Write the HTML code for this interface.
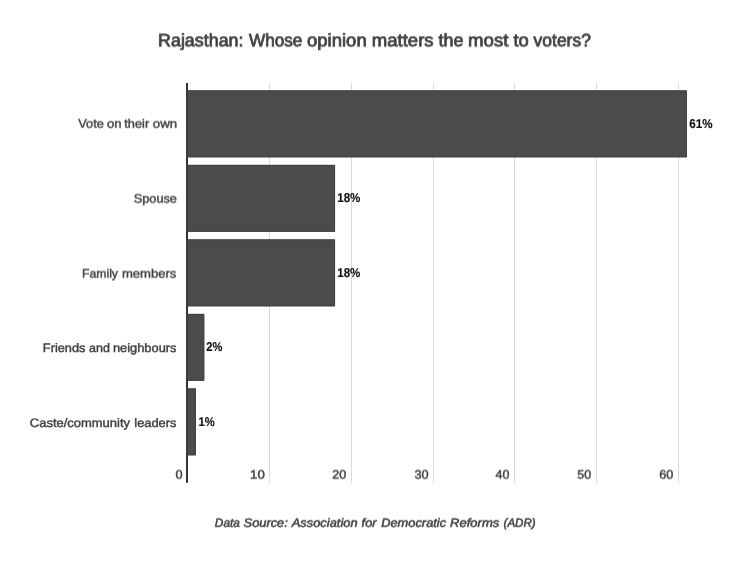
<!DOCTYPE html>
<html lang="en">
<head>
<meta charset="utf-8">
<title>Rajasthan: Whose opinion matters the most to voters?</title>
<style>
html,body{margin:0;padding:0;background:#fff;}
body{width:750px;height:563px;overflow:hidden;}
svg{display:block;font-family:"Liberation Sans",sans-serif;}
text{text-rendering:geometricPrecision;}
.title{font-size:17.8px;fill:#424242;stroke:#424242;stroke-width:.78px;}
.src{font-size:12px;font-style:italic;fill:#404040;stroke:#404040;stroke-width:.5px;}
.cat{font-size:12.3px;fill:#404040;stroke:#404040;stroke-width:.42px;}
.tick{font-size:12.2px;fill:#404040;stroke:#404040;stroke-width:.45px;}
.val{font-size:12.8px;font-weight:bold;fill:#111;stroke:#111;stroke-width:.15px;}
</style>
</head>
<body>
<svg width="750" height="563" viewBox="0 0 750 563">
<rect x="0" y="0" width="750" height="563" fill="#ffffff"/>
<defs>
<filter id="s25" filterUnits="userSpaceOnUse" x="0" y="0" width="750" height="563" color-interpolation-filters="sRGB"><feOffset dy="1" result="o"/><feComposite in="SourceGraphic" in2="o" operator="arithmetic" k1="0" k2="0.75" k3="0.25" k4="0"/></filter>
<filter id="s60" filterUnits="userSpaceOnUse" x="0" y="0" width="750" height="563" color-interpolation-filters="sRGB"><feOffset dy="1" result="o"/><feComposite in="SourceGraphic" in2="o" operator="arithmetic" k1="0" k2="0.40" k3="0.60" k4="0"/></filter>
<filter id="s70" filterUnits="userSpaceOnUse" x="0" y="0" width="750" height="563" color-interpolation-filters="sRGB"><feOffset dy="1" result="o"/><feComposite in="SourceGraphic" in2="o" operator="arithmetic" k1="0" k2="0.30" k3="0.70" k4="0"/></filter>
<filter id="s80" filterUnits="userSpaceOnUse" x="0" y="0" width="750" height="563" color-interpolation-filters="sRGB"><feOffset dy="1" result="o"/><feComposite in="SourceGraphic" in2="o" operator="arithmetic" k1="0" k2="0.20" k3="0.80" k4="0"/></filter>
</defs>
<!-- chart title -->
<g class="title">
<text y="46" filter="url(#s25)"><tspan x="158.06" textLength="85.43" lengthAdjust="spacingAndGlyphs">Rajasthan:</tspan> <tspan x="248.91" textLength="53.53" lengthAdjust="spacingAndGlyphs">Whose</tspan> <tspan x="307.04" textLength="59.68" lengthAdjust="spacingAndGlyphs">opinion</tspan> <tspan x="371.71" textLength="61.91" lengthAdjust="spacingAndGlyphs">matters</tspan> <tspan x="438.47" textLength="24.96" lengthAdjust="spacingAndGlyphs">the</tspan> <tspan x="468.01" textLength="40.44" lengthAdjust="spacingAndGlyphs">most</tspan> <tspan x="513.46" textLength="15.33" lengthAdjust="spacingAndGlyphs">to</tspan> <tspan x="533.62" textLength="57.26" lengthAdjust="spacingAndGlyphs">voters?</tspan></text>
</g>
<!-- gridlines -->
<g fill="#d9d9d9" shape-rendering="crispEdges">
<rect x="269" y="83" width="1" height="400"/>
<rect x="351" y="83" width="1" height="400"/>
<rect x="433" y="83" width="1" height="400"/>
<rect x="514" y="83" width="1" height="400"/>
<rect x="596" y="83" width="1" height="400"/>
<rect x="678" y="83" width="1" height="400"/>
</g>
<!-- bars -->
<g fill="#4b4b4b">
<rect x="187" y="90.40" width="500.00" height="66.9"/>
<rect x="187" y="164.90" width="148.05" height="66.9"/>
<rect x="187" y="239.40" width="148.05" height="66.9"/>
<rect x="187" y="313.90" width="17.25" height="66.9"/>
<rect x="187" y="388.40" width="8.95" height="66.9"/>
</g>
<g fill="none" stroke="#414141" stroke-width="1">
<path d="M188 90.90H686.50V156.80H188"/>
<path d="M188 165.40H334.55V231.30H188"/>
<path d="M188 239.90H334.55V305.80H188"/>
<path d="M188 314.40H203.75V380.30H188"/>
<path d="M188 388.90H195.45V454.80H188"/>
</g>
<!-- axis -->
<rect x="186" y="83" width="2" height="399.8" fill="#333333"/>
<g fill="#3d3d3d">
<rect x="186" y="90.40" width="2" height="66.9"/>
<rect x="186" y="164.90" width="2" height="66.9"/>
<rect x="186" y="239.40" width="2" height="66.9"/>
<rect x="186" y="313.90" width="2" height="66.9"/>
<rect x="186" y="388.40" width="2" height="66.9"/>
</g>
<!-- category labels -->
<g class="cat">
<text y="127" filter="url(#s70)"><tspan x="78.31" textLength="25.57" lengthAdjust="spacingAndGlyphs">Vote</tspan> <tspan x="107.07" textLength="14.54" lengthAdjust="spacingAndGlyphs">on</tspan> <tspan x="124.31" textLength="24.91" lengthAdjust="spacingAndGlyphs">their</tspan> <tspan x="152.81" textLength="24.29" lengthAdjust="spacingAndGlyphs">own</tspan></text>
<text y="202" filter="url(#s60)"><tspan x="133.73" textLength="43.22" lengthAdjust="spacingAndGlyphs">Spouse</tspan></text>
<text y="277" filter="url(#s60)"><tspan x="82.02" textLength="35.97" lengthAdjust="spacingAndGlyphs">Family</tspan> <tspan x="121.90" textLength="54.43" lengthAdjust="spacingAndGlyphs">members</tspan></text>
<text y="352"><tspan x="42.88" textLength="42.52" lengthAdjust="spacingAndGlyphs">Friends</tspan> <tspan x="89.08" textLength="20.86" lengthAdjust="spacingAndGlyphs">and</tspan> <tspan x="112.96" textLength="63.55" lengthAdjust="spacingAndGlyphs">neighbours</tspan></text>
<text y="427"><tspan x="29.88" textLength="100.13" lengthAdjust="spacingAndGlyphs">Caste/community</tspan> <tspan x="134.37" textLength="42.10" lengthAdjust="spacingAndGlyphs">leaders</tspan></text>
</g>
<!-- value labels -->
<g class="val">
<text y="128"><tspan x="689.19" textLength="23.31" lengthAdjust="spacingAndGlyphs">61%</tspan></text>
<text y="202"><tspan x="337.23" textLength="23.17" lengthAdjust="spacingAndGlyphs">18%</tspan></text>
<text y="277"><tspan x="337.23" textLength="23.17" lengthAdjust="spacingAndGlyphs">18%</tspan></text>
<text y="351"><tspan x="206.21" textLength="16.09" lengthAdjust="spacingAndGlyphs">2%</tspan></text>
<text y="426"><tspan x="198.38" textLength="16.25" lengthAdjust="spacingAndGlyphs">1%</tspan></text>
</g>
<!-- tick labels -->
<g class="tick" filter="url(#s60)">
<text y="478"><tspan x="175.42" textLength="7.07" lengthAdjust="spacingAndGlyphs">0</tspan></text>
<text y="478"><tspan x="250.04" textLength="14.70" lengthAdjust="spacingAndGlyphs">10</tspan></text>
<text y="478"><tspan x="332.26" textLength="13.88" lengthAdjust="spacingAndGlyphs">20</tspan></text>
<text y="478"><tspan x="414.46" textLength="14.19" lengthAdjust="spacingAndGlyphs">30</tspan></text>
<text y="478"><tspan x="495.63" textLength="13.90" lengthAdjust="spacingAndGlyphs">40</tspan></text>
<text y="478"><tspan x="577.35" textLength="13.82" lengthAdjust="spacingAndGlyphs">50</tspan></text>
<text y="478"><tspan x="659.29" textLength="14.19" lengthAdjust="spacingAndGlyphs">60</tspan></text>
</g>
<!-- data source -->
<g class="src">
<text y="526" filter="url(#s80)"><tspan x="214.84" textLength="25.03" lengthAdjust="spacingAndGlyphs">Data</tspan> <tspan x="243.58" textLength="44.26" lengthAdjust="spacingAndGlyphs">Source:</tspan> <tspan x="291.76" textLength="65.83" lengthAdjust="spacingAndGlyphs">Association</tspan> <tspan x="361.61" textLength="14.92" lengthAdjust="spacingAndGlyphs">for</tspan> <tspan x="381.23" textLength="64.90" lengthAdjust="spacingAndGlyphs">Democratic</tspan> <tspan x="450.12" textLength="49.17" lengthAdjust="spacingAndGlyphs">Reforms</tspan> <tspan x="503.55" textLength="32.13" lengthAdjust="spacingAndGlyphs">(ADR)</tspan></text>
</g>
</svg>
</body>
</html>
